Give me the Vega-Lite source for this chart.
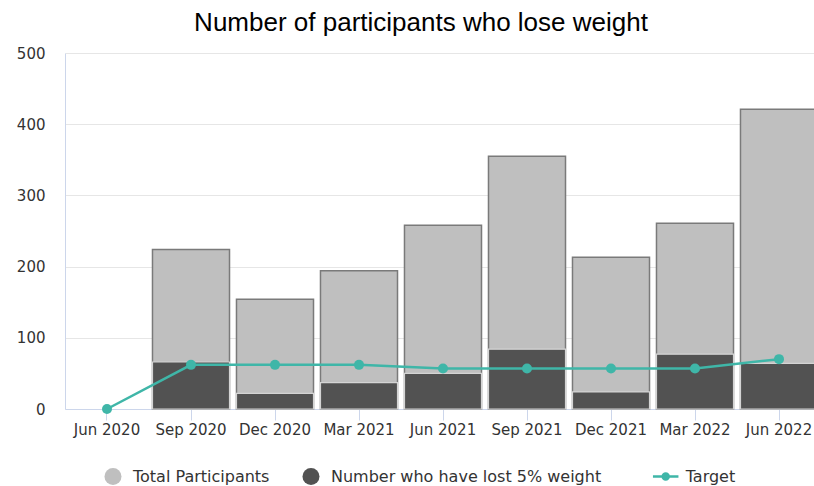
{
  "$schema": "https://vega.github.io/schema/vega-lite/v6.json",
  "width": 756,
  "height": 356,
  "autosize": {"type": "none"},
  "padding": {"left": 65, "top": 53, "right": 0, "bottom": 77},
  "background": "white",
  "config": {"view": {"stroke": null}},
  "title": {
    "text": "Number of participants who lose weight",
    "font": "Liberation Sans",
    "fontSize": 26,
    "fontWeight": "normal",
    "color": "#000000",
    "anchor": "middle",
    "frame": "group",
    "baseline": "alphabetic",
    "offset": 21,
    "dx": -22,
    "dy": 32
  },
  "data": {
    "values": [
      {"quarter": "Jun 2020", "total": null, "lost": null, "target": 0},
      {"quarter": "Sep 2020", "total": 224, "lost": 66, "target": 62},
      {"quarter": "Dec 2020", "total": 154, "lost": 22, "target": 62},
      {"quarter": "Mar 2021", "total": 194, "lost": 37, "target": 62},
      {"quarter": "Jun 2021", "total": 258, "lost": 50, "target": 57},
      {"quarter": "Sep 2021", "total": 355, "lost": 84, "target": 57},
      {"quarter": "Dec 2021", "total": 213, "lost": 24, "target": 57},
      {"quarter": "Mar 2022", "total": 261, "lost": 77, "target": 57},
      {"quarter": "Jun 2022", "total": 421, "lost": 64, "target": 70}
    ]
  },
  "encoding": {
    "x": {
      "field": "quarter",
      "type": "nominal",
      "sort": null,
      "scale": {
        "domain": ["Jun 2020", "Sep 2020", "Dec 2020", "Mar 2021", "Jun 2021", "Sep 2021", "Dec 2021", "Mar 2022", "Jun 2022"],
        "paddingInner": 0.083
      },
      "axis": {
        "title": null,
        "labelAngle": 0,
        "labelFont": "DejaVu Sans",
        "labelFontSize": 15,
        "labelColor": "#333333",
        "domainColor": "#ccd6eb",
        "domainWidth": 1,
        "tickColor": "#ccd6eb",
        "tickSize": 11,
        "labelPadding": 2,
        "grid": false
      }
    }
  },
  "layer": [
    {
      "mark": {"type": "bar", "stroke": "#7a7a7a", "strokeWidth": 1.5},
      "encoding": {
        "y": {
          "field": "total",
          "type": "quantitative",
          "scale": {"domain": [0, 500], "nice": false},
          "axis": {
            "title": null,
            "values": [0, 100, 200, 300, 400, 500],
            "labelFont": "DejaVu Sans",
            "labelFontSize": 15,
            "labelColor": "#333333",
            "domain": true,
            "domainColor": "#ccd6eb",
            "ticks": false,
            "labelPadding": 20,
            "grid": true,
            "gridColor": "#e6e6e6"
          }
        },
        "fill": {
          "datum": "Total Participants",
          "type": "nominal",
          "scale": {
            "domain": ["Total Participants", "Number who have lost 5% weight"],
            "range": ["#bfbfbf", "#525252"]
          },
          "legend": {
            "orient": "none",
            "legendX": 39.5,
            "legendY": 415,
            "direction": "horizontal",
            "title": null,
            "padding": 0,
            "labelFont": "DejaVu Sans",
            "labelFontSize": 16,
            "labelColor": "#333333",
            "labelLimit": 400,
            "symbolSize": 289,
            "labelOffset": 11.5,
            "columnPadding": 33,
            "symbolType": "circle",
            "symbolStrokeWidth": 0,
            "symbolOpacity": 1
          }
        }
      }
    },
    {
      "mark": {"type": "bar", "stroke": "#d4d4d4", "strokeWidth": 1.2},
      "encoding": {
        "y": {"field": "lost", "type": "quantitative"},
        "fill": {"datum": "Number who have lost 5% weight", "type": "nominal"}
      }
    },
    {
      "mark": {"type": "line", "strokeWidth": 2.5},
      "encoding": {
        "y": {"field": "target", "type": "quantitative"},
        "stroke": {
          "datum": "Target",
          "type": "nominal",
          "scale": {"domain": ["Target"], "range": ["#3fb6a8"]},
          "legend": {
            "orient": "none",
            "legendX": 592.2,
            "legendY": 415,
            "direction": "horizontal",
            "title": null,
            "padding": 0,
            "labelFont": "DejaVu Sans",
            "labelFontSize": 16,
            "labelColor": "#333333",
            "labelLimit": 400,
            "symbolSize": 289,
            "labelOffset": 11.5,
            "symbolType": "M-1.5,-0.16L1.5,-0.16L1.5,0.16L-1.5,0.16Z M0.5,0A0.5,0.5,0,1,1,-0.5,0A0.5,0.5,0,1,1,0.5,0Z",
            "symbolFillColor": "#3fb6a8",
            "symbolStrokeWidth": 0,
            "symbolOpacity": 1
          }
        }
      }
    },
    {
      "mark": {"type": "point", "filled": true, "size": 100, "fill": "#3fb6a8", "opacity": 1},
      "encoding": {
        "y": {"field": "target", "type": "quantitative"}
      }
    }
  ]
}
